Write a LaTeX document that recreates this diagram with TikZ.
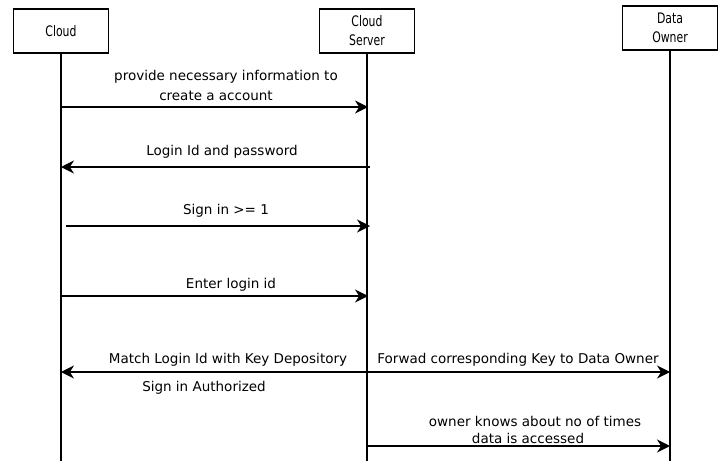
\documentclass[tikz,border=0pt]{standalone}
\usepackage{fontspec}
\setmainfont{DejaVu Sans}
\usetikzlibrary{arrows.meta}
\newcommand{\narrow}[1]{\scalebox{0.75}[1]{#1}}
\begin{document}
\begin{tikzpicture}[x=1pt,y=-1pt,
  actor/.style={draw,line width=1.6pt,minimum width=95pt,minimum height=44pt,inner sep=0pt,align=center,font=\fontsize{14.5}{19}\selectfont},
  lifeline/.style={line width=1.3pt},
  msg/.style={line width=1.9pt,-{Stealth[length=13pt,width=13pt]}},
  dmsg/.style={line width=1.9pt,{Stealth[length=13pt,width=13pt]}-{Stealth[length=13pt,width=13pt]}},
  lbl/.style={font=\fontsize{13.5}{16}\selectfont,inner sep=0pt,align=center}]
\useasboundingbox (0,0) rectangle (718,461);
\node[actor] (cloud) at (61,31) {\narrow{Cloud}};
\node[actor] (server) at (367,31) {\narrow{Cloud}\\\narrow{Server}};
\node[actor] (owner) at (670,28) {\narrow{Data}\\\narrow{Owner}};
\coordinate (cloudend) at (61,461);
\coordinate (serverend) at (367,461);
\coordinate (ownerend) at (670,461);
\draw[lifeline] (cloud.south) -- (cloudend);
\draw[lifeline] (server.south) -- (serverend);
\draw[lifeline] (owner.south) -- (ownerend);
% messages
\coordinate (a1) at (61,107); \coordinate (b1) at (368,107);
\draw[msg] (a1) -- (b1);
\node[lbl] (t1a) at (226,77) {provide necessary information to};
\node[lbl] (t1b) at (216,96) {create a account};
\coordinate (a2) at (370,167); \coordinate (b2) at (61,167);
\draw[msg] (a2) -- (b2);
\node[lbl] (t2) at (222,152) {Login Id and password};
\coordinate (a3) at (66,226); \coordinate (b3) at (370,226);
\draw[msg] (a3) -- (b3);
\node[lbl] (t3) at (226,211) {Sign in >= 1};
\coordinate (a4) at (61,296); \coordinate (b4) at (368,296);
\draw[msg] (a4) -- (b4);
\node[lbl] (t4) at (231,285) {Enter login id};
\coordinate (a5) at (61,372); \coordinate (b5) at (670,372);
\draw[dmsg] (a5) -- (b5);
\node[lbl] (t5a) at (228,360) {Match Login Id with Key Depository};
\node[lbl] (t5b) at (518,360) {Forwad corresponding Key to Data Owner};
\node[lbl] (t5c) at (204,388) {Sign in Authorized};
\coordinate (a6) at (367,446); \coordinate (b6) at (670,446);
\draw[msg] (a6) -- (b6);
\node[lbl] (t6a) at (535,421) {owner knows about no of times};
\node[lbl] (t6b) at (528,438) {data is accessed};
\end{tikzpicture}
\end{document}
